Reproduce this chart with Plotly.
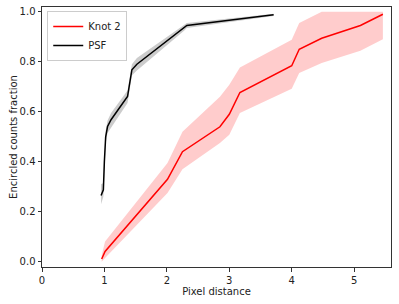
import plotly.graph_objects as go

# Knot 2 (red)
knot_x = [0.956, 1.01, 2.01, 2.25, 2.85, 3.0, 3.17, 4.0, 4.12, 4.48, 5.10, 5.46]
knot_y = [0.011, 0.041, 0.33, 0.44, 0.54, 0.59, 0.677, 0.784, 0.85, 0.894, 0.945, 0.99]
knot_lo = [0.0, 0.015, 0.275, 0.37, 0.475, 0.508, 0.595, 0.692, 0.755, 0.795, 0.844, 0.89]
knot_hi = [0.025, 0.081, 0.395, 0.52, 0.66, 0.708, 0.777, 0.888, 0.955, 1.0, 1.0, 1.0]

# PSF (black)
psf_x = [0.946, 0.983, 0.999, 1.02, 1.05, 1.106, 1.37, 1.44, 1.52, 2.28, 2.32, 3.71]
psf_y = [0.265, 0.288, 0.401, 0.50, 0.541, 0.568, 0.661, 0.768, 0.79, 0.937, 0.945, 0.988]
psf_lo = [0.23, 0.26, 0.375, 0.475, 0.515, 0.54, 0.635, 0.745, 0.765, 0.925, 0.935, 0.983]
psf_hi = [0.31, 0.315, 0.425, 0.525, 0.565, 0.595, 0.685, 0.79, 0.815, 0.948, 0.955, 0.992]

fig = go.Figure()

fig.add_trace(go.Scatter(x=knot_x + knot_x[::-1], y=knot_hi + knot_lo[::-1],
                         fill='toself', fillcolor='rgba(255,0,0,0.2)',
                         line=dict(width=0), mode='lines', showlegend=False, hoverinfo='skip'))
fig.add_trace(go.Scatter(x=psf_x + psf_x[::-1], y=psf_hi + psf_lo[::-1],
                         fill='toself', fillcolor='rgba(0,0,0,0.2)',
                         line=dict(width=0), mode='lines', showlegend=False, hoverinfo='skip'))
fig.add_trace(go.Scatter(x=knot_x, y=knot_y, mode='lines', name='Knot 2',
                         line=dict(color='red', width=1.5)))
fig.add_trace(go.Scatter(x=psf_x, y=psf_y, mode='lines', name='PSF',
                         line=dict(color='black', width=1.5)))

axis_common = dict(showgrid=False, zeroline=False, showline=True, linecolor='#333',
                   linewidth=1, mirror=True, ticks='outside', ticklen=3.5, tickwidth=1,
                   tickcolor='#333', tickfont=dict(size=10, color='#222'), automargin=False)

fig.update_layout(
    width=399, height=304,
    margin=dict(l=42, r=8, t=7, b=37),
    paper_bgcolor='white', plot_bgcolor='white',
    font=dict(family='DejaVu Sans', size=10, color='#222'),
    xaxis=dict(range=[0, 5.59], tickvals=[0, 1, 2, 3, 4, 5],
               title=dict(text='Pixel distance', font=dict(size=10), standoff=3),
               **axis_common),
    yaxis=dict(range=[-0.021, 1.019], tickvals=[0, 0.2, 0.4, 0.6, 0.8, 1.0],
               tickformat='.1f',
               title=dict(text='Encircled counts fraction', font=dict(size=10), standoff=0),
               **axis_common),
    legend=dict(x=0.015, y=0.985, xanchor='left', yanchor='top',
                bordercolor='#ccc', borderwidth=1, bgcolor='rgba(255,255,255,0.8)',
                font=dict(size=10), tracegroupgap=0, itemwidth=30),
)

fig.write_html("out.html", config={'displayModeBar': False},
               post_script="document.body.style.margin='0';")
